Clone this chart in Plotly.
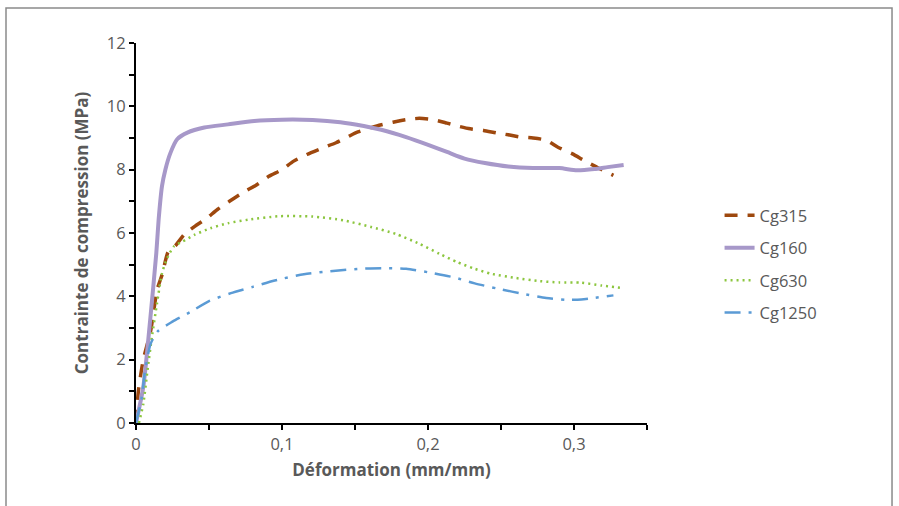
import plotly.graph_objects as go

# Cg315
x315 = [0, 0.0016, 0.005, 0.010, 0.0144, 0.018, 0.022, 0.027, 0.033, 0.040, 0.048, 0.056, 0.064,
        0.073, 0.083, 0.091, 0.100, 0.108, 0.117, 0.128, 0.137, 0.146, 0.152, 0.165, 0.176,
        0.185, 0.194, 0.2035, 0.213, 0.221, 0.229, 0.238, 0.247, 0.255, 0.2635, 0.272, 0.281,
        0.289, 0.299, 0.307, 0.3176, 0.327]
y315 = [0, 1.0, 2.0, 2.9, 4.2, 4.7, 5.4, 5.6, 5.95, 6.2, 6.45, 6.75, 7.0,
        7.27, 7.53, 7.79, 8.0, 8.27, 8.48, 8.69, 8.85, 9.06, 9.19, 9.38, 9.5,
        9.58, 9.62, 9.58, 9.47, 9.37, 9.29, 9.24, 9.16, 9.1, 9.03, 9.0, 8.93,
        8.71, 8.5, 8.29, 8.03, 7.82]

# Cg160
x160 = [0, 0.005, 0.0097, 0.0139, 0.0155, 0.0178, 0.0201, 0.0236, 0.0282, 0.0352, 0.0468, 0.063,
        0.081, 0.100, 0.121, 0.140, 0.156, 0.168, 0.185, 0.201, 0.213, 0.225, 0.239, 0.255,
        0.272, 0.290, 0.302, 0.314, 0.323, 0.334]
y160 = [0, 1.14, 3.25, 5.36, 6.42, 7.48, 8.0, 8.53, 8.96, 9.17, 9.33, 9.43,
        9.54, 9.58, 9.57, 9.5, 9.38, 9.26, 9.03, 8.77, 8.56, 8.35, 8.21, 8.1,
        8.05, 8.05, 7.98, 8.02, 8.08, 8.15]

# Cg630
x630 = [0.002, 0.005, 0.0079, 0.0109, 0.0144, 0.0178, 0.0213, 0.026, 0.032, 0.040, 0.051, 0.063,
        0.077, 0.098, 0.121, 0.142, 0.161, 0.178, 0.194, 0.208, 0.220, 0.232, 0.2435, 0.260,
        0.2765, 0.290, 0.305, 0.319, 0.333]
y630 = [0, 0.6, 1.67, 2.72, 3.78, 4.73, 5.2, 5.58, 5.73, 5.94, 6.15, 6.31,
        6.42, 6.53, 6.52, 6.4, 6.19, 5.97, 5.66, 5.34, 5.08, 4.87, 4.71, 4.58,
        4.48, 4.44, 4.43, 4.34, 4.26]

# Cg1250
x1250 = [0, 0.004, 0.006, 0.010, 0.015, 0.025, 0.037, 0.050, 0.065, 0.080, 0.095, 0.115,
         0.135, 0.154, 0.168, 0.185, 0.200, 0.2176, 0.232, 0.248, 0.267, 0.281, 0.295, 0.305,
         0.314, 0.327]
y1250 = [0, 0.82, 1.6, 2.5, 2.9, 3.2, 3.5, 3.85, 4.1, 4.3, 4.5, 4.7,
         4.8, 4.87, 4.89, 4.87, 4.76, 4.6, 4.41, 4.24, 4.06, 3.95, 3.89, 3.9,
         3.95, 4.03]

names = ["Cg315", "Cg160", "Cg630", "Cg1250"]

font = "'Open Sans', sans-serif"
gray = "#595959"

fig = go.Figure()
fig.add_trace(go.Scatter(x=x315, y=y315, name=names[0], mode="lines", legendgroup="a",
                         line=dict(color="#9E480E", width=3.5, dash="13px,10px", shape="spline", smoothing=0.6)))
fig.add_trace(go.Scatter(x=x160, y=y160, name=names[1], mode="lines", legendgroup="b",
                         line=dict(color="#A798C9", width=4, shape="spline", smoothing=0.6)))
fig.add_trace(go.Scatter(x=x630, y=y630, name=names[2], mode="lines", legendgroup="c",
                         line=dict(color="#8CC63F", width=2.5, dash="2px,4px", shape="spline", smoothing=0.6)))
fig.add_trace(go.Scatter(x=x1250, y=y1250, name=names[3], mode="lines", legendgroup="d",
                         line=dict(color="#5B9BD5", width=2.5, dash="16px,8px,3px,8px", shape="spline", smoothing=0.6)))

fig.update_layout(
    width=899, height=506,
    margin=dict(l=136, r=252, t=43, b=83),
    paper_bgcolor="white", plot_bgcolor="white",
    separators=", ",
    font=dict(family=font, color=gray, size=16),
    legend=dict(x=1.142, y=0.592, xanchor="left", yanchor="top", tracegroupgap=8,
                font=dict(size=16.5, color=gray, family=font), bgcolor="rgba(0,0,0,0)"),
    showlegend=True,
)
fig.update_xaxes(range=[0, 0.35], dtick=0.1, tick0=0, showgrid=False, zeroline=False,
                 showline=True, linecolor="black", linewidth=2,
                 ticks="outside", ticklen=5, tickwidth=2, tickcolor="black",
                 minor=dict(dtick=0.05, ticks="outside", ticklen=5, tickwidth=2, tickcolor="black"),
                 tickfont=dict(size=16.5, color=gray, family=font),
                 title=dict(text="<b>Déformation (mm/mm)</b>", font=dict(size=17, color=gray, family=font), standoff=10))
fig.update_yaxes(range=[0, 12], dtick=2, tick0=0, showgrid=False, zeroline=False,
                 showline=True, linecolor="black", linewidth=2,
                 ticks="outside", ticklen=5, tickwidth=2, tickcolor="black",
                 minor=dict(dtick=1, ticks="outside", ticklen=5, tickwidth=2, tickcolor="black"),
                 tickfont=dict(size=16.5, color=gray, family=font),
                 title=dict(text="<b>Contrainte de compression (MPa)</b>", font=dict(size=17, color=gray, family=font), standoff=14))

# outer chart border
fig.add_shape(type="rect", xref="paper", yref="paper",
              x0=-0.2544, x1=1.4795, y0=-0.24, y1=1.092,
              line=dict(color="#8a8a8a", width=1.5), fillcolor="rgba(0,0,0,0)", layer="below")

fig.write_html("out.html", config={"displayModeBar": False},
               post_script="document.body.style.margin='0';")
